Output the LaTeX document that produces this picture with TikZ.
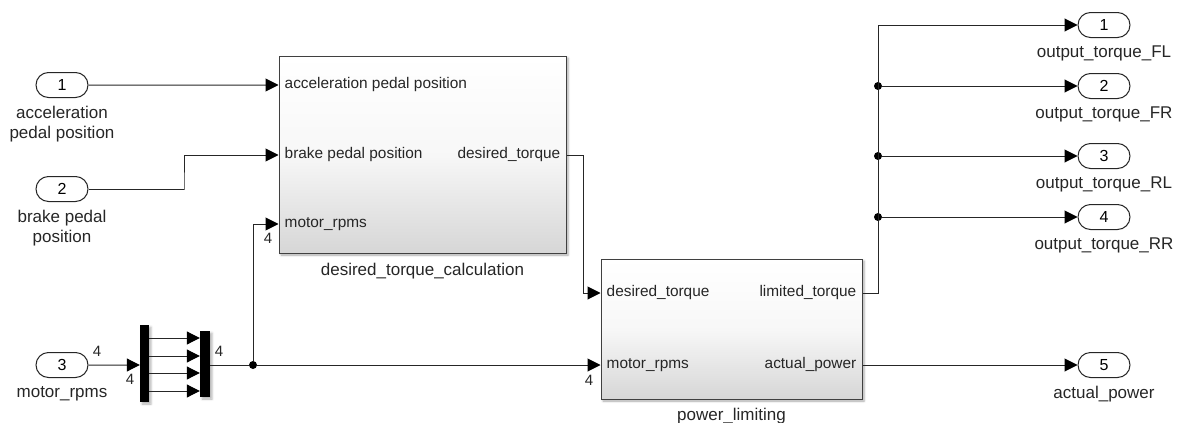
\documentclass[tikz,border=0pt]{standalone}
\usepackage{fontspec}
\setmainfont{Liberation Sans}
\usepackage{tikz}
\usetikzlibrary{arrows.meta, shapes.misc, shadows.blur, positioning}

\tikzset{
    sig/.style={line width=1pt, draw=black!85},
    sigarr/.style={sig, -{Triangle[length=13pt,width=13pt,color=black]}},
    port/.style={rounded rectangle, draw=black!85, line width=1pt,
        minimum width=52pt, minimum height=25pt, inner sep=0pt,
        font=\fontsize{16}{18}\selectfont},
    block/.style={draw=black!75, line width=1pt, inner sep=0pt,
        top color=white, bottom color=black!16, middle color=black!3,
        blur shadow={shadow xshift=2pt, shadow yshift=-2pt, shadow blur steps=4, shadow opacity=35}},
    bar/.style={fill=black, draw=none, inner sep=0pt,
        blur shadow={shadow xshift=2pt, shadow yshift=-2pt, shadow blur steps=3, shadow opacity=30}},
    namelbl/.style={font=\fontsize{17}{20}\selectfont, align=center, inner sep=0pt, text=black!85},
    plbl/.style={font=\fontsize{15.4}{18}\selectfont, inner sep=0pt, text=black!85},
    inlbl/.style={plbl, anchor=west, xshift=6pt},
    outlbl/.style={plbl, anchor=east, xshift=-6pt},
    dimlbl/.style={font=\fontsize{15}{17}\selectfont, inner sep=0pt, text=black!85},
    jdot/.style={circle, fill=black, inner sep=0pt, minimum size=8pt},
}

\begin{document}
\begin{tikzpicture}[x=1pt, y=-1pt]
    \useasboundingbox (0,0) rectangle (1184,423);

    % inports
    \node[port] (in1) at (62,85) {1};
    \node[namelbl, below=8pt of in1] (in1-n) {acceleration\\pedal position};
    \node[port] (in2) at (62,189) {2};
    \node[namelbl, below=8pt of in2] (in2-n) {brake pedal\\position};
    \node[port] (in3) at (62,365) {3};
    \node[namelbl, below=8pt of in3] (in3-n) {motor\_rpms};

    % demux / mux
    \node[bar, minimum width=9pt, minimum height=77pt] (dmx) at (144.5,363.5) {};
    \node[bar, minimum width=10pt, minimum height=66pt] (mx) at (205,364) {};

    % subsystems
    \node[block, minimum width=287pt, minimum height=197pt] (calc) at (422.5,154.5) {};
    \node[namelbl, below=9pt of calc] (calc-n) {desired\_torque\_calculation};
    \node[inlbl] (calc-p1) at (calc.west |- 0,85) {acceleration pedal position};
    \node[inlbl] (calc-p2) at (calc.west |- 0,155) {brake pedal position};
    \node[inlbl] (calc-p3) at (calc.west |- 0,224) {motor\_rpms};
    \node[outlbl] (calc-o1) at (calc.east |- 0,155) {desired\_torque};

    \node[block, minimum width=261pt, minimum height=140pt] (lim) at (731.5,329) {};
    \node[namelbl, below=8pt of lim] (lim-n) {power\_limiting};
    \node[inlbl] (lim-p1) at (lim.west |- 0,293) {desired\_torque};
    \node[inlbl] (lim-p2) at (lim.west |- 0,365) {motor\_rpms};
    \node[outlbl] (lim-o1) at (lim.east |- 0,293) {limited\_torque};
    \node[outlbl] (lim-o2) at (lim.east |- 0,365) {actual\_power};

    % outports
    \node[port] (out1) at (1104,25) {1};
    \node[namelbl, below=8pt of out1] (out1-n) {output\_torque\_FL};
    \node[port] (out2) at (1104,86) {2};
    \node[namelbl, below=8pt of out2] (out2-n) {output\_torque\_FR};
    \node[port] (out3) at (1104,156) {3};
    \node[namelbl, below=8pt of out3] (out3-n) {output\_torque\_RL};
    \node[port] (out4) at (1104,217) {4};
    \node[namelbl, below=8pt of out4] (out4-n) {output\_torque\_RR};
    \node[port] (out5) at (1104,365) {5};
    \node[namelbl, below=8pt of out5] (out5-n) {actual\_power};

    % junctions
    \node[jdot] (j1) at (253,365) {};
    \node[jdot] (j2) at (878,86) {};
    \node[jdot] (j3) at (878,156) {};
    \node[jdot] (j4) at (878,217) {};
    \coordinate (c1) at (184,189);
    \coordinate (c2) at (583,155);
    \coordinate (c3) at (878,293);
    \coordinate (c4) at (878,25);

    % signals
    \draw[sigarr] (in1) -- (calc.west |- in1);
    \draw[sigarr] (in2) -| (c1) |- (calc.west |- calc-p2);
    \draw[sigarr] (in3) -- (dmx.west |- in3);
    \foreach \yy in {338,356,373,391}
        \draw[sigarr] (dmx.east |- 0,\yy) -- (mx.west |- 0,\yy);
    \draw[sig] (mx.east |- j1) -- (j1);
    \draw[sigarr] (j1) -- (lim.west |- j1);
    \draw[sigarr] (j1) |- (calc.west |- calc-p3);
    \draw[sigarr] (calc.east |- calc-o1) -| (c2) |- (lim.west |- lim-p1);
    \draw[sig] (lim.east |- lim-o1) -- (c3) -- (c4);
    \draw[sigarr] (c4) -- (out1);
    \draw[sigarr] (j2) -- (out2);
    \draw[sigarr] (j3) -- (out3);
    \draw[sigarr] (j4) -- (out4);
    \draw[sigarr] (lim.east |- lim-o2) -- (out5);

    % signal widths
    \node[dimlbl] (w1) at (97,351) {4};
    \node[dimlbl] (w2) at (130,379) {4};
    \node[dimlbl] (w3) at (219,351) {4};
    \node[dimlbl] (w4) at (268,238) {4};
    \node[dimlbl] (w5) at (589,380) {4};
\end{tikzpicture}
\end{document}
